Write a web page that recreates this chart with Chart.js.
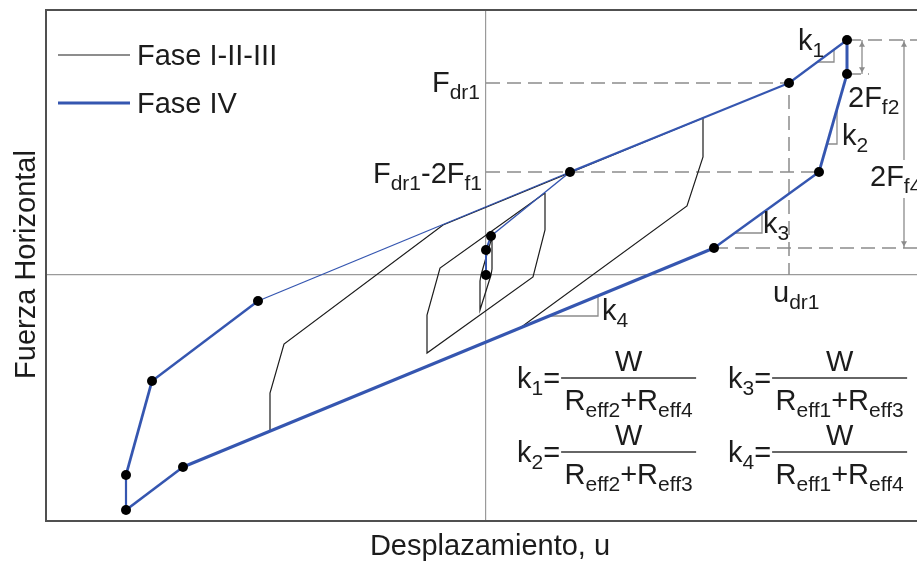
<!DOCTYPE html>
<html>
<head>
<meta charset="utf-8">
<script src="https://cdn.jsdelivr.net/npm/chart.js@4.4.1/dist/chart.umd.min.js"></script>
<style>
  html, body { margin: 0; padding: 0; background: #fff; }
  canvas { display: block; }
</style>
</head>
<body>
<canvas id="myChart" width="917" height="561"></canvas>
<script>
// Fase IV loop: displacement u and horizontal force, marked points included
const faseIVu = [0, 0, 0.5, 8.4, 30.3, 36.1, 36.1, 33.3, 22.8, -30.3, -36.0, -36.0, -33.4, -22.8, 8.4];
const faseIVf = [0, 2.5, 3.9, 10.3, 19.2, 23.5, 20.1, 10.3, 2.7, -19.2, -23.5, -20.0, -10.6, -2.6, 10.3];

// Fase I-II-III loops (large, medium, small)
const loop1u = [21.7, 21.7, 20.1, 3.4, -21.6, -21.6, -20.2, -4.3, 21.7];
const loop1f = [15.7, 11.8, 6.9, -5.3, -15.6, -11.8, -6.9, 5.0, 15.7];
const loop2u = [5.9, 5.9, 4.7, -5.9, -5.9, -4.6, 5.9];
const loop2f = [8.2, 4.5, -0.2, -7.8, -4.0, 0.7, 8.2];
const loop3u = [0.6, 0.6, 0.5, -0.6, -0.6, -0.5, 0.6];
const loop3f = [3.8, 0.6, 0.0, -3.5, -0.6, 0.0, 3.8];

// dashed reference lines
const guideFdr1 = [[0, 19.2], [30.3, 19.2], [30.3, 0]];
const guideFdr1f1 = [[0, 10.3], [33.3, 10.3]];
const guideTop = [[36.1, 23.5], [43.1, 23.5]];
const guideF2 = [[36.1, 20.1], [38.3, 20.1]];
const guideLow = [[22.8, 2.7], [43.1, 2.7]];

// dimension lines 2Ff2 and 2Ff4
const dimF2 = [[37.6, 23.5], [37.6, 20.1]];
const dimF4a = [[41.8, 23.5], [41.8, 11.5]];
const dimF4b = [[41.8, 7.7], [41.8, 2.7]];

// slope triangles k1..k4
const triK1 = [[33.1, 21.3], [34.8, 21.3], [34.8, 22.5]];
const triK2 = [[34.1, 13.1], [35.1, 13.1], [35.1, 16.6]];
const triK3 = [[24.9, 4.2], [27.6, 4.2], [27.6, 6.2]];
const triK4 = [[6.4, -4.1], [11.2, -4.1], [11.2, -2.1]];

const xRange = [-44, 43.1];
const yRange = [-24.6, 26.5];

const BLUE = "#3556b0";
const INK = "#1c1c1c";
const GUIDE = "#8c8c8c";
const FONT = '"Liberation Sans", Arial, sans-serif';

// line widths of each Fase IV segment
const blueWidths = [2, 2, 1.5, 2, 2.2, 3, 2.8, 2.4, 3, 2.6, 2.2, 2.8, 2.4, 1.3];

const pts = (us, fs) => us.map((u, i) => ({ x: u, y: fs[i] }));
const pairs = (arr) => arr.map(([x, y]) => ({ x, y }));

function plain(data, color, width, dash) {
  return {
    data: pairs(data),
    showLine: true,
    borderColor: color,
    borderWidth: width,
    borderDash: dash || [],
    pointRadius: 0,
    fill: false,
  };
}

function blackLoop(us, fs) {
  return {
    label: "Fase I-II-III",
    data: pts(us, fs),
    showLine: true,
    borderColor: INK,
    borderWidth: 1.2,
    pointRadius: 0,
    fill: false,
  };
}

// write text with subscripts; parts = [text, isSub]
function rich(ctx, parts, x, y, align) {
  const big = "29px " + FONT;
  const small = "21px " + FONT;
  let w = 0;
  parts.forEach(([t, sub]) => {
    ctx.font = sub ? small : big;
    w += ctx.measureText(t).width;
  });
  let cx = align === "right" ? x - w : align === "center" ? x - w / 2 : x;
  ctx.textAlign = "left";
  ctx.textBaseline = "alphabetic";
  parts.forEach(([t, sub]) => {
    ctx.font = sub ? small : big;
    ctx.fillText(t, cx, sub ? y + 7 : y);
    cx += ctx.measureText(t).width;
  });
  return w;
}

function fraction(ctx, left, barY, lhs, den) {
  const w = rich(ctx, lhs, left, barY + 10, "left");
  const x0 = left + w + 1;
  const x1 = x0 + 135;
  ctx.strokeStyle = "#333";
  ctx.lineWidth = 1.5;
  ctx.beginPath();
  ctx.moveTo(x0, barY);
  ctx.lineTo(x1, barY);
  ctx.stroke();
  rich(ctx, [["W"]], (x0 + x1) / 2, barY - 7, "center");
  rich(ctx, den, (x0 + x1) / 2, barY + 32, "center");
}

const annotations = {
  id: "annotations",
  afterDraw(chart) {
    const { ctx, chartArea: a } = chart;
    const X = (v) => chart.scales.x.getPixelForValue(v);
    const Y = (v) => chart.scales.y.getPixelForValue(v);
    ctx.save();

    // top edge of the frame
    ctx.strokeStyle = "#505050";
    ctx.lineWidth = 2;
    ctx.beginPath();
    ctx.moveTo(a.left - 1, a.top);
    ctx.lineTo(a.right, a.top);
    ctx.stroke();

    // legend
    const rows = [
      { label: "Fase I-II-III", color: INK, width: 1.2, y: a.top + 45 },
      { label: "Fase IV", color: BLUE, width: 3, y: a.top + 93 },
    ];
    rows.forEach((r) => {
      ctx.strokeStyle = r.color;
      ctx.lineWidth = r.width;
      ctx.beginPath();
      ctx.moveTo(a.left + 12, r.y);
      ctx.lineTo(a.left + 84, r.y);
      ctx.stroke();
      ctx.fillStyle = INK;
      rich(ctx, [[r.label]], a.left + 91, r.y + 10, "left");
    });

    ctx.fillStyle = INK;
    // force levels
    rich(ctx, [["F"], ["dr1", 1]], X(0) - 6, Y(19.2) + 9, "right");
    rich(ctx, [["F"], ["dr1", 1], ["-2F"], ["f1", 1]], X(0) - 4, Y(10.3) + 11, "right");
    // displacement
    rich(ctx, [["u"], ["dr1", 1]], X(30.3) - 16, Y(0) + 27, "left");
    // dimensions
    rich(ctx, [["2F"], ["f2", 1]], X(36.2), Y(20.1) + 33, "left");
    rich(ctx, [["2F"], ["f4", 1]], X(38.4), Y(8.9), "left");
    // slopes
    rich(ctx, [["k"], ["1", 1]], X(31.2), Y(22.5), "left");
    rich(ctx, [["k"], ["2", 1]], X(35.6), Y(13.0), "left");
    rich(ctx, [["k"], ["3", 1]], X(27.7), Y(4.2), "left");
    rich(ctx, [["k"], ["4", 1]], X(11.6), Y(-4.5), "left");

    // stiffness formulas
    const den = (a1, a2) => [["R"], ["eff" + a1, 1], ["+R"], ["eff" + a2, 1]];
    fraction(ctx, X(3.1), Y(-10.3), [["k"], ["1", 1], ["="]], den(2, 4));
    fraction(ctx, X(24.2), Y(-10.3), [["k"], ["3", 1], ["="]], den(1, 3));
    fraction(ctx, X(3.1), Y(-17.7), [["k"], ["2", 1], ["="]], den(2, 3));
    fraction(ctx, X(24.2), Y(-17.7), [["k"], ["4", 1], ["="]], den(1, 4));

    // axis titles
    rich(ctx, [["Desplazamiento, u"]], X(0.4), a.bottom + 34, "center");
    ctx.translate(35, (a.top + a.bottom) / 2 - 1);
    ctx.rotate(-Math.PI / 2);
    rich(ctx, [["Fuerza Horizontal"]], 0, 0, "center");
    ctx.restore();
  },
};

const crossAxis = (range) => ({
  type: "linear",
  min: range[0],
  max: range[1],
  ticks: { display: false },
  grid: { color: "#9a9a9a", lineWidth: 1.2, drawTicks: false },
  border: { display: true, color: "#505050", width: 2 },
  afterBuildTicks: (scale) => {
    scale.ticks = [{ value: 0 }];
  },
});

const ctx = document.getElementById("myChart").getContext("2d");

const myChart = new Chart(ctx, {
  type: "scatter",
  data: {
    datasets: [
      {
        label: "Fase IV",
        data: pts(faseIVu, faseIVf),
        showLine: true,
        borderColor: BLUE,
        borderWidth: 2,
        segment: { borderWidth: (c) => blueWidths[c.p0DataIndex] },
        pointRadius: faseIVu.map((_, i) => (i === faseIVu.length - 1 ? 0 : 5)),
        pointBackgroundColor: "#000",
        pointBorderWidth: 0,
        fill: false,
      },
      blackLoop(loop1u, loop1f),
      blackLoop(loop2u, loop2f),
      blackLoop(loop3u, loop3f),
      plain(guideFdr1, GUIDE, 1.5, [14, 7]),
      plain(guideFdr1f1, GUIDE, 1.5, [14, 7]),
      plain(guideTop, GUIDE, 1.5, [14, 7]),
      plain(guideF2, GUIDE, 1.5, [14, 7]),
      plain(guideLow, GUIDE, 1.5, [14, 7]),
      plain(dimF2, GUIDE, 1.3),
      plain(dimF4a, GUIDE, 1.3),
      plain(dimF4b, GUIDE, 1.3),
      plain(triK1, GUIDE, 1.3),
      plain(triK2, GUIDE, 1.3),
      plain(triK3, GUIDE, 1.3),
      plain(triK4, GUIDE, 1.3),
      // arrow heads of the dimension lines
      {
        data: pairs([[37.6, 23.0], [37.6, 20.6], [41.8, 23.0], [41.8, 3.2]]),
        showLine: false,
        pointStyle: "triangle",
        pointRotation: [0, 180, 0, 180],
        pointRadius: 3.5,
        pointBackgroundColor: GUIDE,
        pointBorderWidth: 0,
      },
    ],
  },
  options: {
    responsive: false,
    animation: false,
    events: [],
    layout: { autoPadding: false, padding: { left: 46, top: 10, right: 0, bottom: 40 } },
    plugins: { legend: { display: false }, tooltip: { enabled: false } },
    scales: {
      x: crossAxis(xRange),
      y: crossAxis(yRange),
    },
  },
  plugins: [annotations],
});
</script>
</body>
</html>
